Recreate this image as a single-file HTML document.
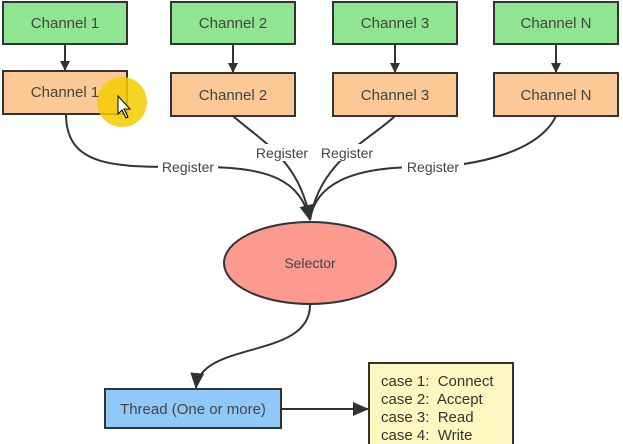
<!DOCTYPE html>
<html><head><style>body{margin:0;background:#fff}svg{display:block}text{font-family:"Liberation Sans",sans-serif}</style></head>
<body>
<svg width="623" height="444" viewBox="0 0 623 444" xmlns="http://www.w3.org/2000/svg">
<defs><marker id="a" markerWidth="10" markerHeight="10" refX="9" refY="5" orient="auto" markerUnits="userSpaceOnUse"><path d="M0,0 L10,5 L0,10 z" fill="#333"/></marker>
<marker id="b" markerWidth="16" markerHeight="14" refX="15" refY="7" orient="auto" markerUnits="userSpaceOnUse"><path d="M0,0 L16,7 L0,14 z" fill="#333"/></marker></defs>
<g stroke="#333" stroke-width="2">
<rect x="3" y="2" width="124" height="42" fill="#90e690"/>
<rect x="171" y="2" width="124" height="42" fill="#90e690"/>
<rect x="333" y="2" width="124" height="42" fill="#90e690"/>
<rect x="494" y="2" width="124" height="42" fill="#90e690"/>
<rect x="3" y="71" width="124" height="43" fill="#fcc895"/>
<rect x="171" y="73" width="124" height="43" fill="#fcc895"/>
<rect x="333" y="73" width="124" height="43" fill="#fcc895"/>
<rect x="494" y="73" width="124" height="43" fill="#fcc895"/>
</g>
<circle cx="122" cy="102" r="25" fill="#f5cc00" opacity="0.85"/>
<g stroke="#333" stroke-width="2" fill="none">
<line x1="65" y1="44" x2="65" y2="70" marker-end="url(#a)"/>
<line x1="233" y1="44" x2="233" y2="72" marker-end="url(#a)"/>
<line x1="395" y1="44" x2="395" y2="72" marker-end="url(#a)"/>
<line x1="556" y1="44" x2="556" y2="72" marker-end="url(#a)"/>
<path d="M66,114 C66,170 120,167 200,167 C270,167 300,180 310,220" marker-end="url(#b)"/>
<path d="M233,116 C260,140 300,160 310,220"/>
<path d="M395,116 C370,140 320,160 310,220"/>
<path d="M556,116 C540,150 480,167 420,167 C350,167 315,185 310,220"/>
<path d="M310,305 C310,360 200,340 196,388" marker-end="url(#b)"/>
<line x1="281" y1="409" x2="368" y2="409" marker-end="url(#b)"/>
</g>
<g fill="#fff">
<rect x="158" y="158" width="60" height="17"/><rect x="250" y="144" width="64" height="17"/>
<rect x="315" y="144" width="64" height="17"/><rect x="402" y="158" width="62" height="17"/>
</g>
<g font-size="14" fill="#444" text-anchor="middle">
<text x="188" y="172">Register</text><text x="282" y="158">Register</text>
<text x="347" y="158">Register</text><text x="433" y="172">Register</text>
</g>
<ellipse cx="310" cy="263" rx="86" ry="41" fill="#fc9a90" stroke="#333" stroke-width="2"/>
<rect x="105" y="389" width="176" height="39" fill="#90c8f8" stroke="#333" stroke-width="2"/>
<rect x="369" y="363" width="144" height="90" fill="#fcf8c0" stroke="#333" stroke-width="2"/>
<g font-size="15" fill="#444" text-anchor="middle">
<text x="65" y="28">Channel 1</text><text x="233" y="28">Channel 2</text>
<text x="395" y="28">Channel 3</text><text x="556" y="28">Channel N</text>
<text x="65" y="97">Channel 1</text><text x="233" y="100">Channel 2</text>
<text x="395" y="100">Channel 3</text><text x="556" y="100">Channel N</text>
<text x="310" y="268" font-size="14">Selector</text>
<text x="193" y="414">Thread (One or more)</text>
</g>
<g font-size="15" fill="#333">
<text x="381" y="386">case 1:&#160; Connect</text>
<text x="381" y="404">case 2:&#160; Accept</text>
<text x="381" y="422">case 3:&#160; Read</text>
<text x="381" y="440">case 4:&#160; Write</text>
</g>
<path d="M118,96 L118,114 L122,110 L126,118 L128,117 L124,109 L130,109 z" fill="#fff" stroke="#000" stroke-width="1"/>
</svg>
</body></html>
